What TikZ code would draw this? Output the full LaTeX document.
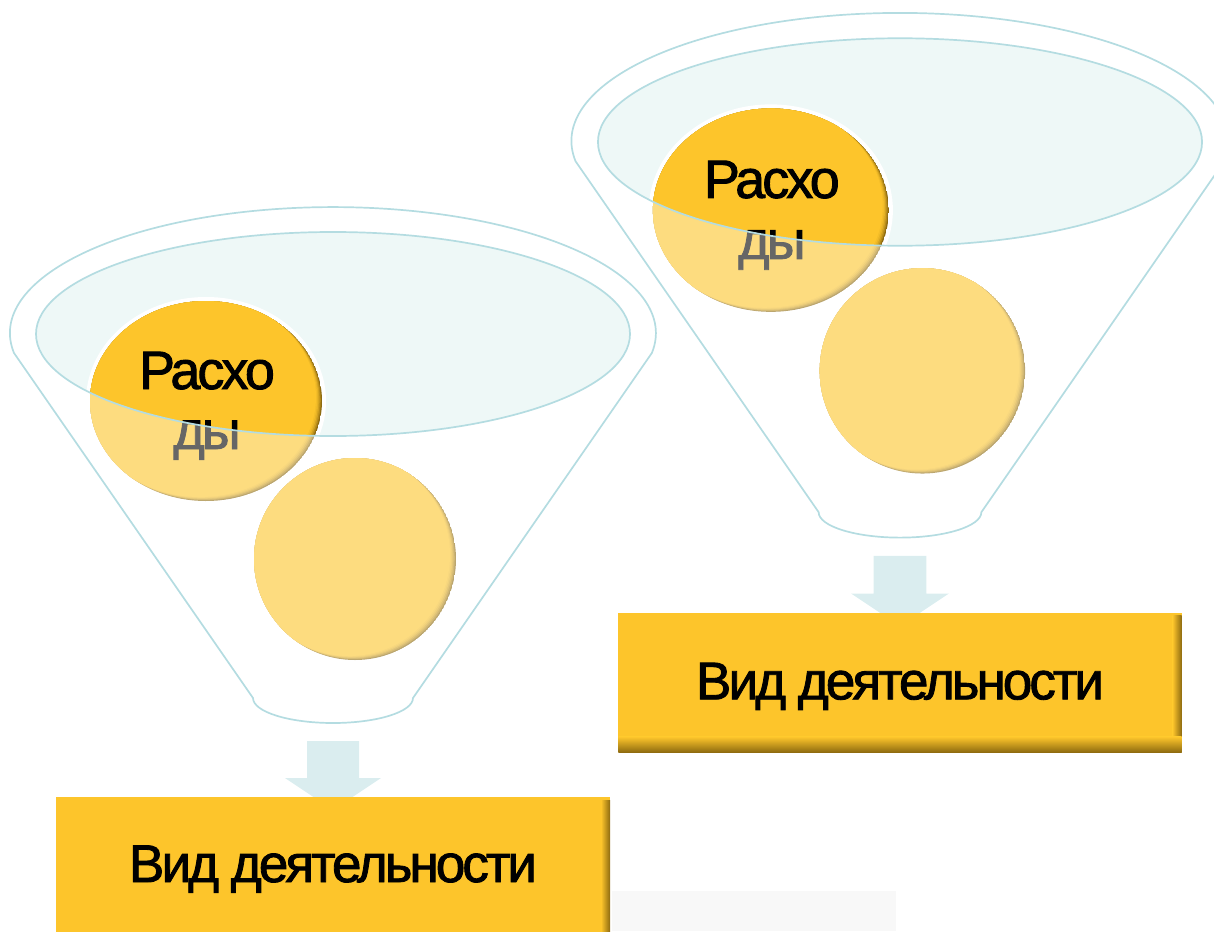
\documentclass[tikz,border=0pt]{standalone}
\usepackage{fontspec}
\setmainfont{Liberation Sans}
\newfontfamily\tightfont[LetterSpace=-5.5,FakeBold=1.6]{Liberation Sans}
\usetikzlibrary{calc}
\definecolor{gold}{HTML}{FDC52B}
\definecolor{golddark}{HTML}{8E6B10}
\definecolor{funlinec}{HTML}{B4DCE1}
\definecolor{funfill}{HTML}{EEF8F7}
\definecolor{arrowfill}{HTML}{DAEDEF}
\definecolor{graybg}{HTML}{F8F8F8}
\tikzset{
  funnelline/.style={draw=funlinec, line width=1.7pt},
  circtext/.style={anchor=base, font=\tightfont\fontsize{54}{60}\selectfont, text=black, inner sep=0pt},
  boxtext/.style={anchor=base, font=\tightfont\fontsize{53}{60}\selectfont, text=black, inner sep=0pt},
  blockarrow/.style={fill=arrowfill, draw=none},
  goldbox/.style={fill=gold, draw=none},
}
\newcommand\shadedoval[3]{%
  \begin{scope}
    \clip #1 ellipse [x radius=#2, y radius=#3];
    \fill[golddark] #1 ellipse [x radius=#2, y radius=#3];
    \foreach \k/\p in {1/35,2/60,3/80,4/92,5/100}{
      \fill[gold!\p!golddark, shift={(-1.2*\k,-0.8*\k)}] #1 ellipse [x radius=#2, y radius=#3];
    }
  \end{scope}}
\def\funpath{(-80,364) -- (-319,19) arc[start angle=170.9, end angle=369.1, x radius=323, y radius=126] -- (80,364) arc[start angle=0, end angle=180, x radius=80, y radius=25] -- cycle}
\newcommand\drawfunnel[5]{%
  \begin{scope}[shift={(#1,#2)}, scale=#3]
    % inner ellipse fill
    \fill[funfill] (0,0) ellipse [x radius=297, y radius=102];
    % lower circle
    \shadedoval{(22,225)}{101}{101}
    % top circle with white ring
    \fill[white] (-127,67) ellipse [x radius=120, y radius=104];
    \shadedoval{(-127,67)}{116}{100}
    \node[circtext] (#4a) at (-126,55) {Расхо};
    \node[circtext] (#4b) at (-126,115) {ды};
    % translucent white veil outside the inner ellipse
    \begin{scope}
      \clip \funpath;
      \fill[white, fill opacity=0.4, even odd rule] (-400,-200) rectangle (400,450) (0,0) ellipse [x radius=297, y radius=102];
    \end{scope}
    % outlines
    \draw[funnelline] \funpath;
    \draw[funnelline] (0,0) ellipse [x radius=297, y radius=102];
    % block arrow
    \fill[blockarrow] (-26,407) -- (26,407) -- (26,444) -- (48,444) -- (0,476) -- (-48,444) -- (-26,444) -- cycle;
    % box
    \fill[goldbox] (-277,463) rectangle (277,#5);
    \shade[left color=gold, right color=golddark] (268,466) rectangle (277,#5);
    \shade[top color=gold, bottom color=golddark] (-277,#5-15) rectangle (277,#5);
    \node[boxtext] (#4t) at (0,548) {Вид деятельности};
  \end{scope}}
\begin{document}
\begin{tikzpicture}[x=1pt,y=-1pt]
  \useasboundingbox (0,0) rectangle (1214,931);
  \clip (0,0) rectangle (1214,931);
  \fill[graybg] (612,891) rectangle (896,931);
  \drawfunnel{333}{334}{1}{L}{640}
  \drawfunnel{900}{142}{1.017}{R}{600}
\end{tikzpicture}
\end{document}
